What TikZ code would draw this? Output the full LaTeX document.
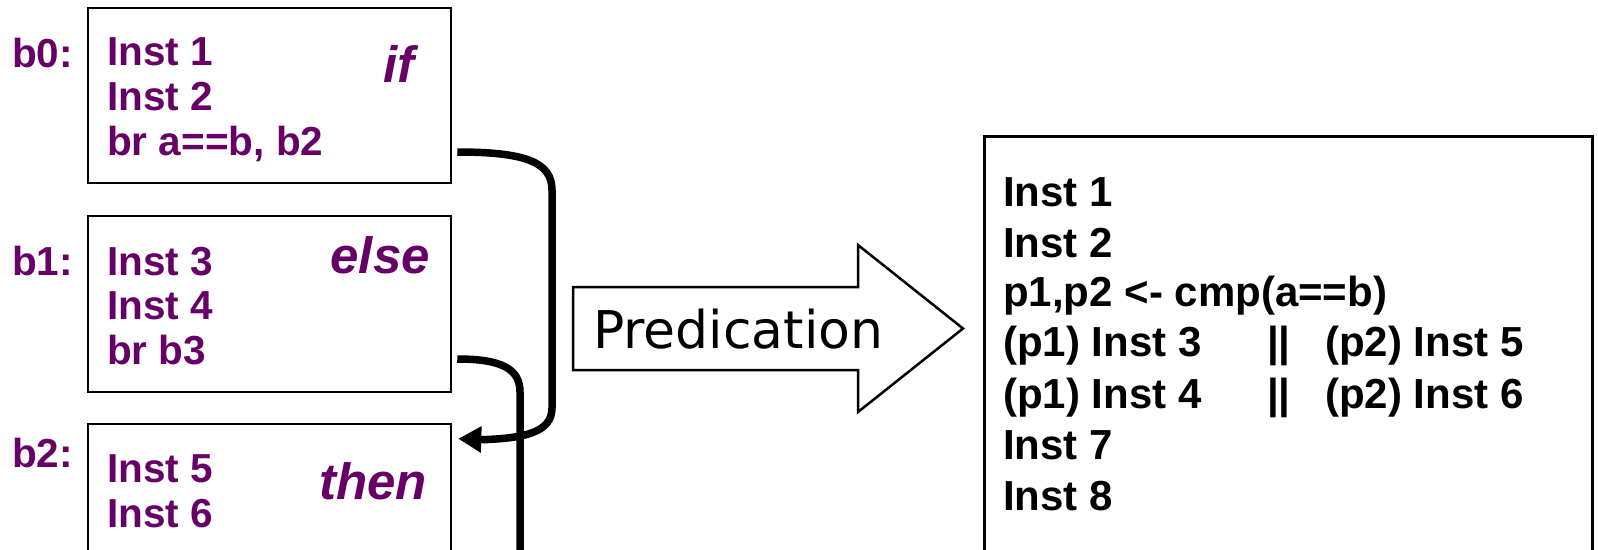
\documentclass[tikz,border=0pt]{standalone}
\usepackage{fontspec}
\newfontfamily\lsans{Liberation Sans}
\newfontfamily\dvsans{DejaVu Sans}
\usetikzlibrary{arrows.meta,calc}
\definecolor{plum}{RGB}{102,0,102}
\begin{document}
\begin{tikzpicture}[x=1pt,y=-1pt,
  blk/.style={draw=black, line width=2.5pt, inner sep=0pt, minimum width=363pt},
  code/.style={anchor=base west, inner sep=0pt, text=plum, font=\lsans\bfseries\fontsize{40.5pt}{45pt}\selectfont},
  kw/.style={anchor=base east, inner sep=0pt, text=plum, font=\lsans\bfseries\itshape\fontsize{51pt}{56pt}\selectfont},
  rcode/.style={anchor=base west, inner sep=0pt, font=\lsans\bfseries\fontsize{42pt}{50pt}\selectfont},
  flow/.style={line width=7.5pt, draw=black},
  bigarrow/.style={draw=black, line width=2.5pt, line join=miter, fill=white},
]
\useasboundingbox (0,0) rectangle (1598,549);

% basic blocks
\node[blk, minimum height=175pt] (b0) at (269.5,95.5) {};
\node[blk, minimum height=176pt] (b1) at (269.5,304) {};
\node[blk, minimum height=140pt] (b2) at (269.5,494) {};

% labels
\node[code] (l0) at (12,67) {b0:};
\node[code] (l1) at (12,275) {b1:};
\node[code] (l2) at (12,467) {b2:};

% b0 contents
\node[code] (i1) at (107,65) {Inst 1};
\node[code] (i2) at (107,110) {Inst 2};
\node[code] (i3) at (107,155) {br a==b, b2};
\node[kw] (kif) at (415,82) {if};

% b1 contents
\node[code] (i4) at (107,275) {Inst 3};
\node[code] (i5) at (107,319) {Inst 4};
\node[code] (i6) at (107,364) {br b3};
\node[kw] (kelse) at (430,273) {else};

% b2 contents
\node[code] (i7) at (107,482) {Inst 5};
\node[code] (i8) at (107,527) {Inst 6};
\node[kw] (kthen) at (427,499) {then};

% connectors
\coordinate (off) at (520,565);
\draw[flow, -{Triangle[length=23pt,width=25pt]}]
  ($(b0.east)+(5,56.5)$) .. controls (525,152) and (552,162) .. (552,190)
  -- (552,408) .. controls (552,432) and (525,438) .. (485,439.6)
  -- ($(b2.north east)+(6,16)$);
\draw[flow]
  ($(b1.east)+(5,55)$) .. controls (500,359) and (520,368) .. (520,392)
  -- (off);

% predication arrow
\draw[bigarrow] (573,287) -- (858,287) -- (858,245) -- (963,328.5) -- (858,412) -- (858,370) -- (573,370) -- cycle;
\node[anchor=base west, inner sep=0pt, font=\dvsans\fontsize{52pt}{60pt}\selectfont] (pred) at (593,348) {Predication};

% result box
\node[draw=black, line width=3pt, inner sep=0pt, minimum width=608pt, minimum height=430pt] (R) at (1288,351) {};
\node[rcode] (r1) at (1003,206) {Inst 1};
\node[rcode] (r2) at (1003,257) {Inst 2};
\node[rcode] (r3) at (1003,306) {p1,p2 <- cmp(a==b)};
\node[rcode] (r4a) at (1003,356) {(p1) Inst 3};
\node[rcode] (r4b) at (1267,356) {||};
\node[rcode] (r4c) at (1325,356) {(p2) Inst 5};
\node[rcode] (r5a) at (1003,408) {(p1) Inst 4};
\node[rcode] (r5b) at (1267,408) {||};
\node[rcode] (r5c) at (1325,408) {(p2) Inst 6};
\node[rcode] (r6) at (1003,459) {Inst 7};
\node[rcode] (r7) at (1003,510) {Inst 8};
\end{tikzpicture}
\end{document}
